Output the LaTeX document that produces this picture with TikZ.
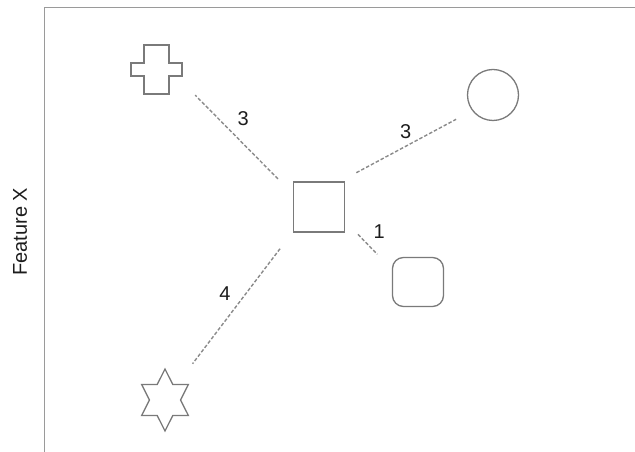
\documentclass[tikz,border=0pt]{standalone}
\usepackage{fontspec}
\setmainfont{Liberation Sans}
\usetikzlibrary{shapes.geometric}
\definecolor{Frame}{HTML}{9A9A9A}
\definecolor{Outline}{HTML}{7A7A7A}
\definecolor{Link}{HTML}{8A8A8A}
\definecolor{Ink}{HTML}{1C1C1C}
\tikzset{
  outlined/.style={draw=Outline,line width=1.3pt,inner sep=0pt},
  distline/.style={draw=Link,line width=1.4pt,dash pattern=on 3.5pt off 2pt},
  distnum/.style={text=Ink,font=\fontsize{20}{24}\selectfont}
}
\begin{document}
\begin{tikzpicture}[x=1pt,y=1pt]
\path[use as bounding box] (0,0) rectangle (635,452);
\draw[Frame,line width=1pt] (635,444) -- (44,444) -- (44,0);
\node[distnum,rotate=90] (featx) at (20,220.3) {Feature X};

% query and neighbours
\node[outlined,minimum width=51pt,minimum height=50pt] (sq) at (318.7,245) {};
\node[minimum width=51pt,minimum height=49pt,inner sep=0pt] (cross) at (156.5,382.5) {};
\draw[outlined] (cross.center) ++(-12.5,24.5) -- ++(25,0) -- ++(0,-18) -- ++(13,0)
  -- ++(0,-13) -- ++(-13,0) -- ++(0,-18) -- ++(-25,0) -- ++(0,18) -- ++(-13,0)
  -- ++(0,13) -- ++(13,0) -- cycle;
\node[outlined,circle,minimum size=51pt] (circ) at (493,357) {};
\node[outlined,rounded corners=11pt,minimum width=51pt,minimum height=49pt] (rsq) at (418,170) {};
\node[outlined,star,star points=6,star point ratio=1.732,minimum size=62pt,xscale=0.87] (star) at (165,52) {};

% distances
\draw[distline,shorten <=20.8pt,shorten >=18.5pt] (sq.153) -- (cross.-26);
\draw[distline,shorten <=18.3pt,shorten >=18.2pt] (sq.50) -- (circ.217);
\draw[distline,shorten <=18.8pt,shorten >=20.8pt] (sq.-28) -- (rsq.154);
\draw[distline,shorten <=20.7pt,shorten >=45.5pt] (sq.224) -- (star.center);
\node[distnum] (w1) at (243.3,333.7) {3};
\node[distnum] (w2) at (405.7,320.3) {3};
\node[distnum] (w3) at (379.3,220.3) {1};
\node[distnum] (w4) at (225,158.7) {4};
\end{tikzpicture}
\end{document}
